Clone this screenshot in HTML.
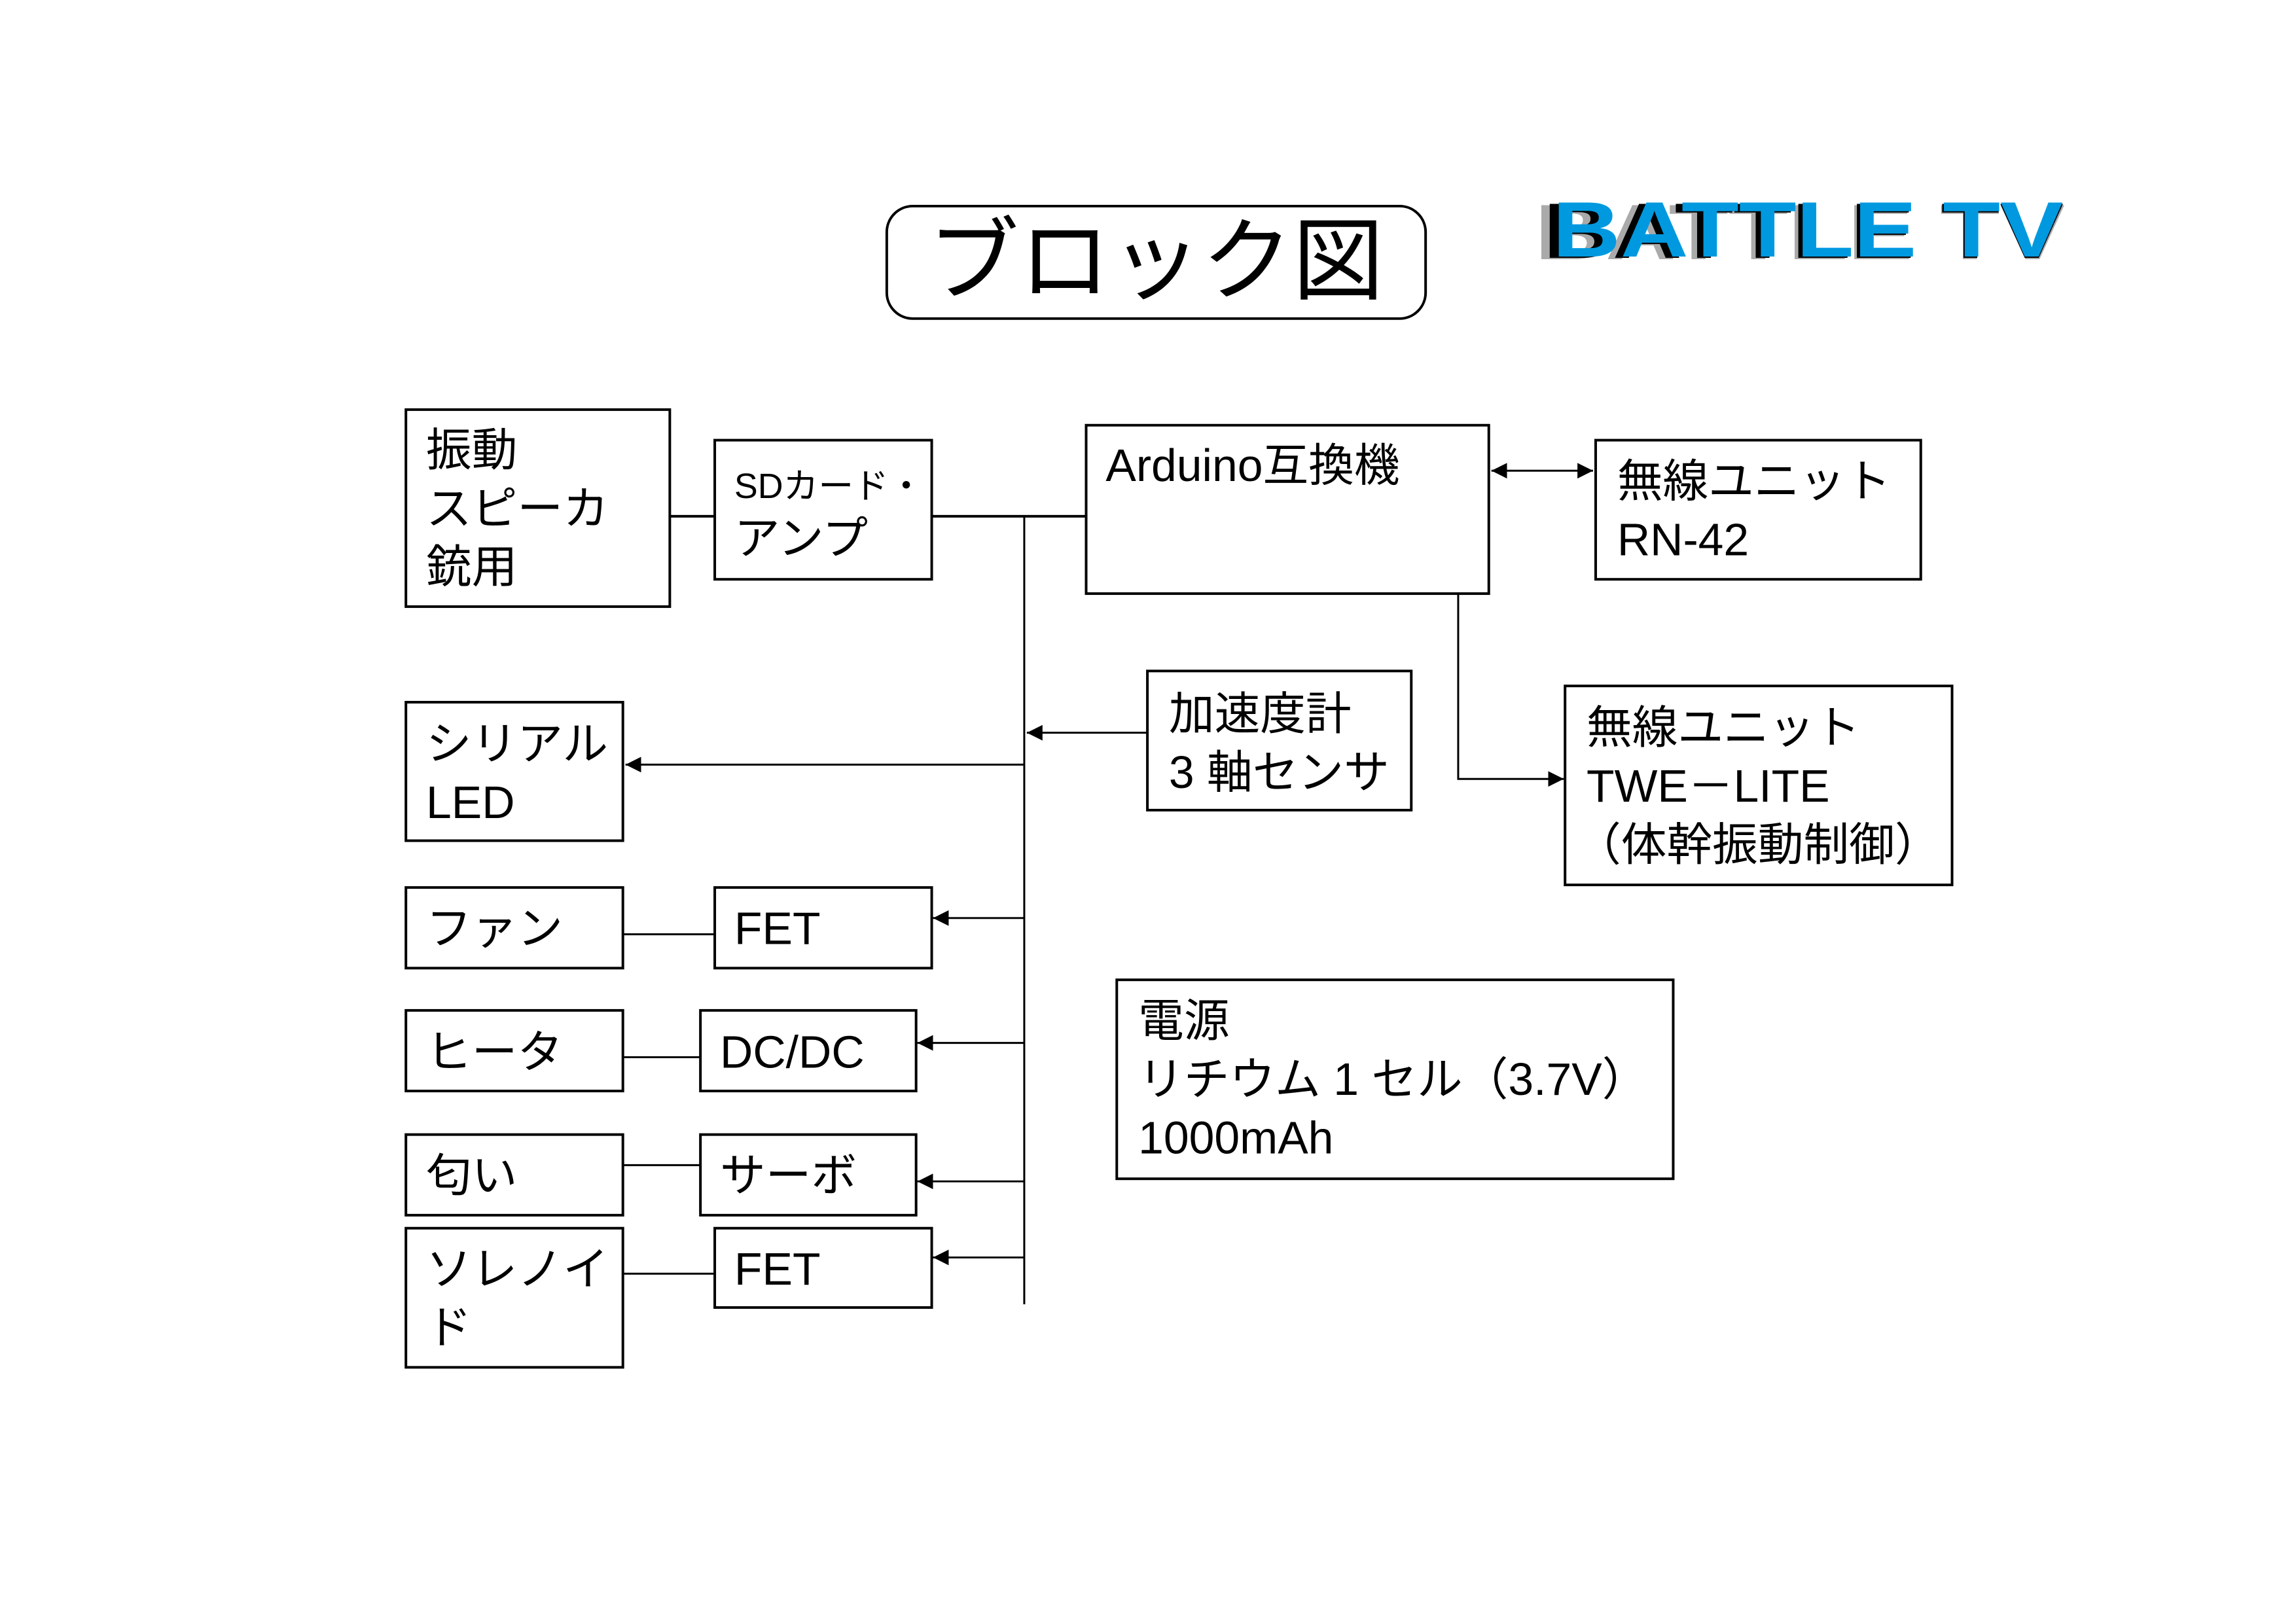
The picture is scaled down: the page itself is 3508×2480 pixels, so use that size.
<!DOCTYPE html>
<html><head><meta charset="utf-8"><style>
html,body{margin:0;padding:0;background:#fff}
svg{display:block}
text{font-family:"Liberation Sans","Noto Sans CJK JP",sans-serif;fill:#000}
</style></head><body>
<svg width="3508" height="2480" viewBox="0 0 3508 2480" xmlns="http://www.w3.org/2000/svg">
<defs>
<marker id="ah" viewBox="0 0 10 10" refX="10" refY="5" markerWidth="24" markerHeight="24" orient="auto-start-reverse" markerUnits="userSpaceOnUse"><path d="M0,0 L10,5 L0,10 z" fill="#000"/></marker>
</defs>
<g font-weight="bold" font-size="120">
<text x="2345" y="396" textLength="810" lengthAdjust="spacingAndGlyphs" style="fill:#aaa">BATTLE TV</text>
<text x="2358" y="394" textLength="795" lengthAdjust="spacingAndGlyphs" style="fill:#000">BATTLE TV</text>
<text x="2372" y="392" textLength="780" lengthAdjust="spacingAndGlyphs" style="fill:#0099e0">BATTLE TV</text>
</g>
<g transform="scale(0.9955,0.9935)">
<rect x="1361" y="317" width="827" height="173" rx="40" fill="none" stroke="#000" stroke-width="4"/>
<text x="1774" y="450" font-size="140" text-anchor="middle">ブロック図</text>
<g fill="none" stroke="#000" stroke-width="4">
<rect x="623" y="630" width="405" height="303"/>
<rect x="1097" y="677" width="333" height="214"/>
<rect x="1667" y="654" width="618" height="259"/>
<rect x="2449" y="677" width="499" height="214"/>
<rect x="1761" y="1032" width="405" height="214"/>
<rect x="623" y="1080" width="333" height="213"/>
<rect x="2402" y="1055" width="594" height="306"/>
<rect x="623" y="1365" width="333" height="124"/>
<rect x="1097" y="1365" width="333" height="124"/>
<rect x="623" y="1554" width="333" height="124"/>
<rect x="1075" y="1554" width="331" height="124"/>
<rect x="623" y="1745" width="333" height="124"/>
<rect x="1075" y="1745" width="331" height="124"/>
<rect x="623" y="1889" width="333" height="214"/>
<rect x="1097" y="1889" width="333" height="122"/>
<rect x="1714" y="1507" width="854" height="306"/>
</g>
<g fill="none" stroke="#000" stroke-width="4">
<line x1="1028" y1="794" x2="1097" y2="794"/>
<line x1="1430" y1="794" x2="1667" y2="794"/>
</g>
<g fill="none" stroke="#000" stroke-width="3">
<line x1="1572" y1="794" x2="1572" y2="2006"/>
<line x1="2289" y1="724" x2="2445" y2="724" marker-start="url(#ah)" marker-end="url(#ah)"/>
<line x1="1761" y1="1127" x2="1576" y2="1127" marker-end="url(#ah)"/>
<line x1="1572" y1="1176" x2="960" y2="1176" marker-end="url(#ah)"/>
<polyline points="2238,913 2238,1198 2400,1198" marker-end="url(#ah)"/>
<line x1="1572" y1="1412" x2="1432" y2="1412" marker-end="url(#ah)"/>
<line x1="1572" y1="1604" x2="1408" y2="1604" marker-end="url(#ah)"/>
<line x1="1572" y1="1817" x2="1408" y2="1817" marker-end="url(#ah)"/>
<line x1="1572" y1="1934" x2="1432" y2="1934" marker-end="url(#ah)"/>
<line x1="956" y1="1437" x2="1097" y2="1437"/>
<line x1="956" y1="1626" x2="1075" y2="1626"/>
<line x1="956" y1="1792" x2="1075" y2="1792"/>
<line x1="956" y1="1959" x2="1097" y2="1959"/>
</g>
<g font-size="70">
<text x="654" y="716">振動</text>
<text x="654" y="806">スピーカ</text>
<text x="654" y="896">銃用</text>
<text x="1127" y="766" font-size="54">SDカード・</text>
<text x="1127" y="852">アンプ</text>
<text x="1697" y="740">Arduino互換機</text>
<text x="2482" y="764">無線ユニット</text>
<text x="2482" y="854">RN-42</text>
<text x="1794" y="1122">加速度計</text>
<text x="1794" y="1212">3 軸センサ</text>
<text x="654" y="1168">シリアル</text>
<text x="654" y="1258">LED</text>
<text x="2435" y="1143">無線ユニット</text>
<text x="2435" y="1233">TWE－LITE</text>
<text x="2418" y="1323">（体幹振動制御）</text>
<text x="654" y="1452">ファン</text>
<text x="1127" y="1452">FET</text>
<text x="654" y="1642">ヒータ</text>
<text x="1105" y="1642">DC/DC</text>
<text x="654" y="1832">匂い</text>
<text x="1105" y="1832">サーボ</text>
<text x="654" y="1976">ソレノイ</text>
<text x="654" y="2066">ド</text>
<text x="1127" y="1976">FET</text>
<text x="1747" y="1594">電源</text>
<text x="1747" y="1684">リチウム 1 セル（3.7V）</text>
<text x="1747" y="1774">1000mAh</text>
</g>
</g>
</svg>
</body></html>
